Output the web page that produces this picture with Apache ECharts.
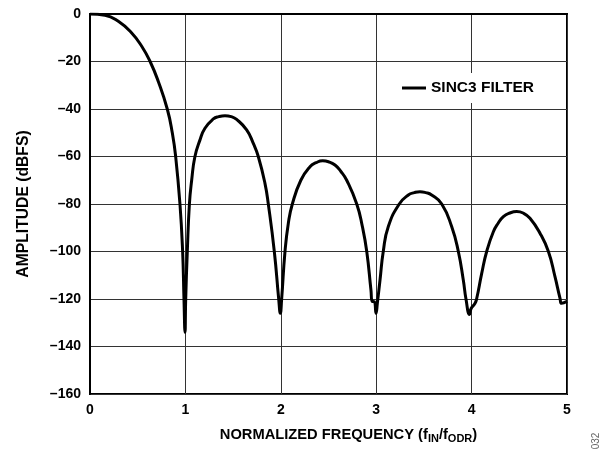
<!DOCTYPE html>
<html>
<head>
<meta charset="utf-8">
<script src="https://cdn.jsdelivr.net/npm/echarts@6/dist/echarts.min.js"></script>
<style>
  html, body { margin: 0; padding: 0; background: #fff; }
  #chart { width: 613px; height: 453px; }
</style>
</head>
<body>
<div id="chart"></div>
<script>
// normalized frequency (fIN/fODR)
var freq = [
  0, 0.157, 0.297, 0.437, 0.542, 0.63, 0.716, 0.81, 0.863, 0.898, 0.943, 0.971, 0.985, 0.996,
  1.003, 1.02, 1.042, 1.066, 1.10, 1.153, 1.205, 1.293, 1.35, 1.415, 1.48, 1.537, 1.642, 1.712, 1.764, 1.834, 1.869, 1.932, 1.978, 1.995,
  2.009, 2.044, 2.079, 2.121, 2.21, 2.306, 2.37, 2.439, 2.50, 2.568, 2.63, 2.691, 2.796, 2.855, 2.901, 2.945, 2.959, 2.98, 2.998,
  3.012, 3.04, 3.074, 3.127, 3.242, 3.337, 3.40, 3.459, 3.52, 3.581, 3.687, 3.791, 3.861, 3.913, 3.941, 3.978,
  3.995, 4.036, 4.054, 4.106, 4.158, 4.228, 4.28, 4.333, 4.40, 4.473, 4.54, 4.612, 4.717, 4.805, 4.874, 4.927, 4.944, 5
];
// amplitude (dBFS)
var amplitude = [
  0, -0.5, -3.1, -8, -13.6, -20, -28.4, -40, -50.1, -60, -80, -100, -120, -134,
  -120.4, -100, -80, -69.9, -60, -53, -48.1, -44.2, -43.2, -42.8, -43.2, -44.4, -48.8, -54.5, -60, -71.3, -80, -100, -120, -126,
  -120, -100, -88.1, -80, -70, -64.3, -62.6, -61.8, -62.2, -63.6, -66.3, -70, -80, -89.5, -100, -116.2, -121, -121.1, -126,
  -121.8, -112, -100, -89.5, -80, -76.2, -75.2, -74.8, -75.2, -76.2, -80, -89.5, -100, -112, -120, -126.5,
  -124, -121.8, -119.7, -109.2, -100, -91.7, -88.0, -85.3, -83.8, -83.2, -83.8, -86, -92.3, -100, -110.6, -119.7, -121.8, -121
];
var seriesName = 'SINC3 FILTER';

var points = freq.map(function (f, i) { return [f, amplitude[i]]; });

var font = '"Liberation Sans", Arial, sans-serif';
var chart = echarts.init(document.getElementById('chart'));
chart.setOption({
  animation: false,
  backgroundColor: '#fff',
  grid: {
    left: 90,
    right: 46,
    top: 14,
    bottom: 59,
    show: true,
    borderColor: '#000',
    borderWidth: 2
  },
  legend: {
    data: [seriesName],
    left: 392,
    top: 73,
    padding: [7, 10],
    backgroundColor: '#fff',
    icon: 'rect',
    itemWidth: 24,
    itemHeight: 3,
    itemGap: 8,
    itemStyle: { color: '#000' },
    textStyle: { fontFamily: font, fontWeight: 'bold', fontSize: 15.5, color: '#000' }
  },
  xAxis: {
    type: 'value',
    min: 0,
    max: 5,
    interval: 1,
    name: 'NORMALIZED FREQUENCY (f{sub|IN}/f{sub|ODR})',
    nameLocation: 'middle',
    nameGap: 32,
    nameTextStyle: {
      fontFamily: font, fontWeight: 'bold', fontSize: 14.7, color: '#000',
      padding: [0, 0, 0, 40],
      rich: {
        sub: { fontFamily: font, fontWeight: 'bold', fontSize: 11, color: '#000', padding: [7, 0, 0, 0] }
      }
    },
    axisLine: { lineStyle: { color: '#000', width: 2 } },
    axisTick: { show: false },
    axisLabel: { margin: 9, fontFamily: font, fontWeight: 'bold', fontSize: 14, color: '#000' },
    splitLine: { lineStyle: { color: '#333', width: 1 } }
  },
  yAxis: {
    type: 'value',
    min: -160,
    max: 0,
    interval: 20,
    name: 'AMPLITUDE (dBFS)',
    nameLocation: 'middle',
    nameGap: 58,
    nameTextStyle: { fontFamily: font, fontWeight: 'bold', fontSize: 15.7, color: '#000' },
    axisLine: { show: true, lineStyle: { color: '#000', width: 2 } },
    axisTick: { show: false },
    axisLabel: {
      margin: 9, fontFamily: font, fontWeight: 'bold', fontSize: 14, color: '#000',
      formatter: function (v) { return v < 0 ? '\u2013' + Math.abs(v) : String(v); }
    },
    splitLine: { lineStyle: { color: '#333', width: 1 } }
  },
  series: [
    {
      name: seriesName,
      type: 'line',
      data: points,
      showSymbol: false,
      smooth: 0.5,
      lineStyle: { color: '#000', width: 3 },
      itemStyle: { color: '#000' }
    }
  ],
  graphic: [
    {
      type: 'text',
      x: 596,
      y: 441,
      rotation: Math.PI / 2,
      style: {
        text: '032', fontFamily: font, fontSize: 10, fill: '#666',
        align: 'center', verticalAlign: 'middle'
      }
    }
  ]
});
</script>
</body>
</html>
